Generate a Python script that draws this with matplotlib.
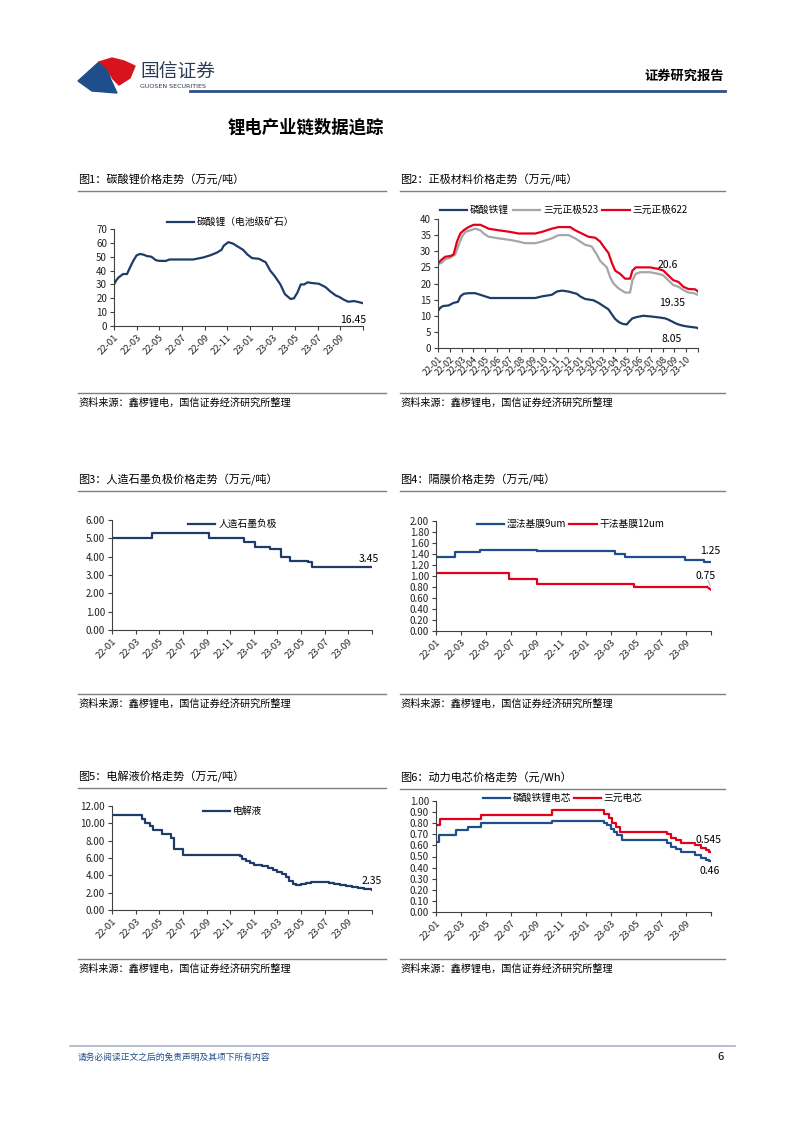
import numpy as np
import matplotlib.pyplot as plt
from matplotlib.lines import Line2D
from matplotlib.patches import Polygon

plt.rcParams['font.family'] = ['Noto Sans CJK SC', 'DejaVu Sans']

W, H = 802, 1133

# x = months since 2022-01
ticks_2m = ['22-01', '22-03', '22-05', '22-07', '22-09', '22-11',
            '23-01', '23-03', '23-05', '23-07', '23-09']
ticks_1m = ['22-01', '22-02', '22-03', '22-04', '22-05', '22-06', '22-07',
            '22-08', '22-09', '22-10', '22-11', '22-12', '23-01', '23-02',
            '23-03', '23-04', '23-05', '23-06', '23-07', '23-08', '23-09', '23-10']

# 图1 碳酸锂
li_t = [0, 0.2, 0.4, 0.8, 1.15, 1.4, 1.7, 2.0, 2.3, 2.6, 2.9, 3.3, 3.7, 4.0,
        4.6, 4.9, 7.0, 7.9, 8.5, 9.1, 9.5, 9.7, 10.1, 10.5, 11.0, 11.4, 11.8,
        12.2, 12.8, 13.4, 13.8, 14.2, 14.7, 15.1, 15.6, 15.9, 16.2, 16.5, 16.8,
        17.1, 17.5, 18.1, 18.7, 19.1, 19.6, 19.9, 20.3, 20.7, 21.2, 21.5, 22]
li_v = [30, 33, 35, 37.5, 37.5, 42, 47, 51, 52, 51.5, 50.5, 50, 47.5, 47,
        47, 48, 48, 49.5, 51, 53, 55, 58, 60.5, 59.5, 57, 55, 51.5,
        49, 48.5, 46, 40, 36, 30, 23, 19.5, 20, 24, 30, 30,
        31.5, 31, 30.5, 28, 25, 22, 21, 19, 17.5, 18, 17.5, 16.45]

# 图2 正极材料
lfp_t = [0, 0.2, 0.42, 0.9, 1.32, 1.69, 1.89, 2.17, 2.59, 3.15, 3.58, 4.0, 4.42,
         8.23, 8.79, 9.63, 10.06, 10.48, 11.04, 11.75, 12.03, 12.45, 13.15, 13.58,
         14.0, 14.42, 14.7, 14.99, 15.32, 15.61, 15.97, 16.2, 16.45, 16.82, 17.38,
         17.94, 18.65, 19.21, 19.49, 19.92, 20.2, 20.62, 21.04, 21.46, 21.89, 22]
lfp_v = [11.5, 12.5, 13, 13.2, 14, 14.3, 16, 16.8, 17, 17, 16.5, 16, 15.5,
         15.5, 16, 16.5, 17.5, 17.8, 17.5, 16.8, 16, 15.2, 14.8, 14,
         13, 12, 10.5, 9, 8, 7.5, 7.3, 8.3, 9.2, 9.6, 10,
         9.8, 9.5, 9.2, 8.8, 8, 7.5, 7, 6.7, 6.5, 6.3, 6.1]
ncm523_t = [0, 0.34, 0.62, 1.04, 1.46, 1.75, 2.03, 2.31, 2.73, 3.15, 3.58, 3.86,
            4.28, 5.13, 6.11, 6.82, 7.38, 8.23, 8.79, 9.63, 10.2, 11.04, 11.61,
            12.03, 12.45, 13.0, 13.44, 13.72, 14.28, 14.56, 14.85, 15.27, 15.83,
            16.25, 16.45, 16.73, 17.1, 17.94, 18.65, 19.07, 19.49, 19.92, 20.34,
            20.76, 21.18, 21.61, 22]
ncm523_v = [26, 26.5, 27.5, 28, 29, 32, 34.5, 36, 36.5, 37, 36.5, 35.5,
            34.5, 34, 33.5, 33, 32.5, 32.5, 33, 34, 35, 35, 34,
            33, 32, 31.5, 29, 27, 25, 22, 20, 18.5, 17.2,
            17.2, 21, 23, 23.5, 23.5, 23, 22.5, 21, 19.5, 19,
            18, 17.2, 17, 16.5]
ncm622_t = [0, 0.34, 0.62, 1.04, 1.32, 1.61, 1.89, 2.17, 2.59, 3.01, 3.58, 4.0,
            4.28, 5.13, 6.11, 6.82, 8.23, 8.79, 9.63, 10.2, 11.18, 11.61, 12.17,
            12.73, 13.3, 13.72, 14.0, 14.42, 14.7, 14.99, 15.41, 15.83, 16.25,
            16.45, 16.73, 17.94, 18.65, 19.07, 19.49, 19.92, 20.34, 20.76, 21.18,
            21.75, 22]
ncm622_v = [26.3, 27.5, 28.3, 28.5, 29, 33, 35.5, 36.5, 37.5, 38.2, 38.2, 37.5,
            37, 36.5, 36, 35.5, 35.5, 36, 37, 37.5, 37.5, 36.5, 35.5,
            34.5, 34.2, 33, 31.5, 29.5, 26.5, 24, 23, 21.5, 21.5,
            24, 25, 25, 24.5, 24, 22.5, 21, 20.5, 19, 18.3,
            18.2, 17.5]

# 图3 人造石墨负极 (step changes)
gr_t = [0, 3.4, 8.2, 11.2, 12.1, 13.4, 14.3, 15.05, 16.6, 16.9, 22]
gr_v = [5.0, 5.3, 5.0, 4.8, 4.55, 4.4, 4.0, 3.75, 3.72, 3.45, 3.45]

# 图4 隔膜
wet_t = [0, 1.5, 3.55, 8.1, 14.35, 15.15, 19.95, 21.4, 22]
wet_v = [1.35, 1.43, 1.48, 1.46, 1.40, 1.35, 1.30, 1.25, 1.25]
dry_t = [0, 5.8, 8.1, 15.8, 21.7, 22]
dry_v = [1.05, 0.95, 0.85, 0.80, 0.80, 0.75]

# 图5 电解液
el_t = [0, 2.5, 2.8, 3.2, 3.5, 4.2, 5.0, 5.25, 6.0, 8.8, 10.8, 11.0, 11.3, 11.7,
        12.0, 12.7, 13.2, 13.6, 14.0, 14.4, 14.7, 15.0, 15.3, 15.6, 16.0, 16.4,
        16.8, 17.3, 18.0, 18.4, 18.8, 19.3, 19.8, 20.3, 20.8, 21.3, 22]
el_v = [11.0, 10.5, 10.0, 9.7, 9.2, 8.8, 8.3, 7.0, 6.3, 6.4, 6.2, 5.9, 5.6, 5.4,
        5.2, 5.1, 4.8, 4.6, 4.4, 4.1, 3.8, 3.4, 3.0, 2.9, 3.0, 3.1,
        3.2, 3.25, 3.25, 3.1, 2.95, 2.85, 2.75, 2.7, 2.55, 2.45, 2.35]

# 图6 动力电芯
lfpc_t = [0, 0.2, 1.63, 2.56, 3.63, 9.28, 13.4, 13.7, 14.0, 14.2, 14.5, 14.9,
          18.5, 18.8, 19.2, 19.6, 20.7, 21.2, 21.6, 21.8, 22]
lfpc_v = [0.63, 0.69, 0.74, 0.77, 0.80, 0.82, 0.80, 0.78, 0.75, 0.72, 0.69, 0.65,
          0.62, 0.59, 0.57, 0.54, 0.51, 0.49, 0.47, 0.46, 0.46]
ncmc_t = [0, 0.3, 3.63, 9.28, 13.4, 13.8, 14.1, 14.4, 14.7,
          18.5, 18.8, 19.2, 19.6, 20.7, 21.2, 21.6, 21.8, 22]
ncmc_v = [0.78, 0.84, 0.87, 0.92, 0.88, 0.85, 0.80, 0.77, 0.72,
          0.70, 0.67, 0.65, 0.62, 0.60, 0.58, 0.56, 0.545, 0.545]

NAVY = '#1F3B68'
BLUE = '#1F4E8C'
RED = '#E3001B'
GRAY = '#A6A6A6'

fig = plt.figure(figsize=(W / 100, H / 100), dpi=100)


def fx(x):
    return x / W


def fy(y):
    return 1 - y / H


def ftext(x, y, s, **kw):
    kw.setdefault('va', 'center')
    fig.text(fx(x), fy(y), s, **kw)


def hline(x0, x1, y, **kw):
    fig.add_artist(Line2D([fx(x0), fx(x1)], [fy(y), fy(y)],
                          transform=fig.transFigure, **kw))


def make_axes(x0, y0, x1, y1, top, step, fmt, labels, every, xfs=6.8):
    ax = fig.add_axes([fx(x0), fy(y1), fx(x1 - x0), (y1 - y0) / H])
    ax.spines[['top', 'right']].set_visible(False)
    for s in ['left', 'bottom']:
        ax.spines[s].set_color('#404040')
        ax.spines[s].set_linewidth(0.8)
    ax.set_xlim(0, 22)
    ax.set_ylim(0, top)
    yt = np.arange(0, top + step / 2, step)
    ax.set_yticks(yt)
    ax.set_yticklabels([fmt.format(v) for v in yt], fontsize=7)
    xt = list(range(0, 23, every))
    ax.set_xticks(xt)
    ax.set_xticklabels(labels + [''] * (len(xt) - len(labels)), fontsize=xfs,
                       rotation=45, ha='right', rotation_mode='anchor')
    ax.tick_params(direction='out', length=3, width=0.8, colors='#404040',
                   labelcolor='#222222', pad=2)
    ax.patch.set_alpha(0)
    return ax


# ---- page header ----
fig.add_artist(Polygon([(fx(78), fy(81)), (fx(99), fy(62)), (fx(107), fy(68)),
                        (fx(111), fy(80)), (fx(117), fy(93)), (fx(92), fy(91))],
                       closed=True, color='#1F4E8C', transform=fig.transFigure))
fig.add_artist(Polygon([(fx(99), fy(62)), (fx(112), fy(58)), (fx(124), fy(61)),
                        (fx(135), fy(66)), (fx(130), fy(78)), (fx(119), fy(85)),
                        (fx(113), fy(79)), (fx(107), fy(68))],
                       closed=True, color='#D7141E', transform=fig.transFigure))
ftext(140, 71, '国信证券', fontsize=13.5, color='#2B3A55')
ftext(140, 86.5, 'GUOSEN SECURITIES', fontsize=4.6, color='#2B3A55',
      family=['DejaVu Sans'])
ftext(724, 76, '证券研究报告', fontsize=9.5, fontweight='bold', ha='right')
hline(190, 725, 91, color='#2F4F8A', lw=2)
ftext(228, 128, '锂电产业链数据追踪', fontsize=12.5, fontweight='bold')

# ---- headings / sources ----
src = '资料来源：鑫椤锂电，国信证券经济研究所整理'
for (x0, x1, yh, ys, title) in [
        (78, 386, 180, 403, '图1：碳酸锂价格走势（万元/吨）'),
        (400, 725, 180, 403, '图2：正极材料价格走势（万元/吨）'),
        (78, 386, 480, 704, '图3：人造石墨负极价格走势（万元/吨）'),
        (400, 725, 480, 704, '图4：隔膜价格走势（万元/吨）'),
        (78, 386, 777, 969, '图5：电解液价格走势（万元/吨）'),
        (400, 725, 778, 969, '图6：动力电芯价格走势（元/Wh）')]:
    ftext(x0, yh, title, fontsize=8)
    hline(x0, x1, yh + 11, color='#7F7F7F', lw=1)
    hline(x0, x1, ys - 10, color='#7F7F7F', lw=1)
    ftext(x0, ys, src, fontsize=7.3)

# ---- 图1 ----
ax1 = make_axes(114, 229, 363, 326, 70, 10, '{:.0f}', ticks_2m, 2)
ax1.plot(li_t, li_v, color=NAVY, lw=1.6, label='碳酸锂（电池级矿石）')
ax1.text(22.3, 4.5, '16.45', fontsize=7.5, ha='right', va='center')
fig.legend(handles=ax1.get_lines(), loc='center left', frameon=False,
           bbox_to_anchor=(fx(167), fy(222)), fontsize=7, handlelength=2.8,
           handletextpad=0.3, borderpad=0, borderaxespad=0)

# ---- 图2 ----
ax2 = make_axes(438, 219, 698, 348, 40, 5, '{:.0f}', ticks_1m, 1, xfs=6.4)
ax2.plot(lfp_t, lfp_v, color=NAVY, lw=1.6, label='磷酸铁锂')
ax2.plot(ncm523_t, ncm523_v, color=GRAY, lw=1.6, label='三元正极523')
ax2.plot(ncm622_t, ncm622_v, color=RED, lw=1.6, label='三元正极622')
ax2.text(19.4, 25.8, '20.6', fontsize=7.5, ha='center', va='center')
ax2.text(19.8, 14.1, '19.35', fontsize=7.5, ha='center', va='center')
ax2.text(19.8, 2.9, '8.05', fontsize=7.5, ha='center', va='center')
fig.legend(handles=ax2.get_lines(), loc='center left', frameon=False, ncol=3,
           bbox_to_anchor=(fx(440), fy(210)), fontsize=7, handlelength=2.8,
           handletextpad=0.3, columnspacing=0.4, borderpad=0, borderaxespad=0)

# ---- 图3 ----
ax3 = make_axes(112, 520, 372, 630, 6, 1, '{:.2f}', ticks_2m, 2)
ax3.plot(gr_t, gr_v, color=NAVY, lw=1.6, drawstyle='steps-post',
         label='人造石墨负极')
ax3.text(21.7, 3.9, '3.45', fontsize=7.5, ha='center', va='center')
fig.legend(handles=ax3.get_lines(), loc='center left', frameon=False,
           bbox_to_anchor=(fx(188), fy(524)), fontsize=7, handlelength=2.8,
           handletextpad=0.3, borderpad=0, borderaxespad=0)

# ---- 图4 ----
ax4 = make_axes(436, 521, 711, 631, 2, 0.2, '{:.2f}', ticks_2m, 2)
ax4.plot(wet_t, wet_v, color=BLUE, lw=1.6, drawstyle='steps-post',
         label='湿法基膜9um')
ax4.plot(dry_t[:-1], dry_v[:-1], color=RED, lw=1.6, drawstyle='steps-post',
         label='干法基膜12um')
ax4.plot(dry_t[-2:], [dry_v[-2], dry_v[-1]], color=RED, lw=1.6)
ax4.set_xlim(0, 22)
ax4.text(21.9, 1.46, '1.25', fontsize=7.5, ha='center', va='center')
ax4.text(21.6, 1.0, '0.75', fontsize=7.5, ha='center', va='center')
ax4.plot([21.75, 21.95], [0.92, 0.82], color='#999999', lw=0.6)
fig.legend(handles=ax4.get_lines()[:2], loc='center left', frameon=False,
           ncol=2, bbox_to_anchor=(fx(477), fy(524)), fontsize=7,
           handlelength=2.8, handletextpad=0.3, columnspacing=0.3,
           borderpad=0, borderaxespad=0)

# ---- 图5 ----
ax5 = make_axes(112, 806, 372, 910, 12, 2, '{:.2f}', ticks_2m, 2)
ax5.plot(el_t, el_v, color=NAVY, lw=1.6, drawstyle='steps-post', label='电解液')
ax5.text(22.0, 3.4, '2.35', fontsize=7.5, ha='center', va='center')
fig.legend(handles=ax5.get_lines(), loc='center left', frameon=False,
           bbox_to_anchor=(fx(203), fy(811)), fontsize=7, handlelength=2.8,
           handletextpad=0.3, borderpad=0, borderaxespad=0)

# ---- 图6 ----
ax6 = make_axes(436, 801, 711, 912, 1.0, 0.1, '{:.2f}', ticks_2m, 2)
ax6.plot(lfpc_t, lfpc_v, color=BLUE, lw=1.6, drawstyle='steps-post',
         label='磷酸铁锂电芯')
ax6.plot(ncmc_t, ncmc_v, color=RED, lw=1.6, drawstyle='steps-post',
         label='三元电芯')
ax6.text(21.8, 0.65, '0.545', fontsize=7.5, ha='center', va='center')
ax6.text(21.9, 0.37, '0.46', fontsize=7.5, ha='center', va='center')
fig.legend(handles=ax6.get_lines(), loc='center left', frameon=False, ncol=2,
           bbox_to_anchor=(fx(483), fy(798)), fontsize=7, handlelength=2.8,
           handletextpad=0.3, columnspacing=0.2, borderpad=0, borderaxespad=0)

# ---- footer ----
hline(70, 735, 1046, color='#A9B4C2', lw=1.2)
ftext(78, 1057, '请务必阅读正文之后的免责声明及其项下所有内容', fontsize=6.3,
      color='#1F4E8C', style='italic')
ftext(724, 1057, '6', fontsize=8, ha='right')

fig.savefig('out.png', dpi=100)
